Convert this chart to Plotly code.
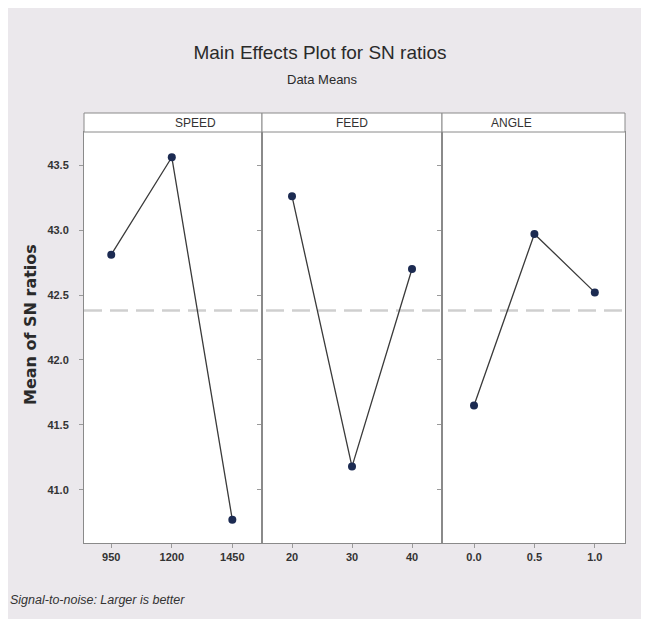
import plotly.graph_objects as go
from plotly.subplots import make_subplots

speed_levels = ["950", "1200", "1450"]
speed_sn = [42.81, 43.56, 40.77]
feed_levels = ["20", "30", "40"]
feed_sn = [43.26, 41.18, 42.70]
angle_levels = ["0.0", "0.5", "1.0"]
angle_sn = [41.65, 42.97, 42.52]
factor_names = ["SPEED", "FEED", "ANGLE"]
y_ticks = [41.0, 41.5, 42.0, 42.5, 43.0, 43.5]

all_vals = speed_sn + feed_sn + angle_sn
overall_mean = sum(all_vals) / len(all_vals)

W, H = 649, 619
OFF = 8  # page body margin offset
ML, MR, MT, MB = 84 - OFF, 24 + OFF, 132 - OFF, 76 + OFF
pw = W - ML - MR
ph = H - MT - MB

FONT = "Liberation Sans"

fig = make_subplots(rows=1, cols=3, shared_yaxes=True, horizontal_spacing=0)

series = [(speed_levels, speed_sn), (feed_levels, feed_sn), (angle_levels, angle_sn)]
for i, (lv, vals) in enumerate(series):
    fig.add_trace(go.Scatter(x=lv, y=vals, mode="lines+markers",
                             line=dict(color="#3a3a3a", width=1.3),
                             marker=dict(color="#1c2b52", size=8),
                             showlegend=False), row=1, col=i + 1)

bounds = [84, 262, 442, 625]
doms = [[(bounds[i] - 84) / pw, (bounds[i + 1] - 84) / pw] for i in range(3)]
ranges = [[-0.45, 2.49], [-0.5, 2.5], [-0.53, 2.5]]
for i in range(3):
    ax = "xaxis" if i == 0 else f"xaxis{i+1}"
    fig.layout[ax].update(domain=doms[i], type="category", range=ranges[i],
                          showgrid=False, zeroline=False, showline=True,
                          linecolor="#8a8a8a", linewidth=1, mirror=True,
                          ticks="outside", ticklen=4, tickcolor="#9a9a9a",
                          tickfont=dict(family=FONT, size=11, color="#333333", weight="bold"))
    fig.add_shape(type="rect", xref="paper", yref="paper",
                  x0=doms[i][0], x1=doms[i][1], y0=1, y1=1 + 19 / ph,
                  fillcolor="white", line=dict(color="#8a8a8a", width=1))
    fig.add_annotation(text=factor_names[i], xref="paper", yref="paper",
                       x=(doms[i][0] + doms[i][1]) / 2, y=1 + 9.5 / ph,
                       showarrow=False, yanchor="middle",
                       font=dict(family=FONT, size=12, color="#333333"))

fig.update_yaxes(range=[40.592, 43.754], tickvals=y_ticks,
                 ticktext=[f"{v:.1f}" for v in y_ticks],
                 showgrid=False, zeroline=False, showline=True,
                 linecolor="#8a8a8a", mirror=True,
                 ticks="outside", ticklen=4, tickcolor="#9a9a9a",
                 ticklabelstandoff=8,
                 tickfont=dict(family=FONT, size=11, color="#333333", weight="bold"))

# y-axis title as a rotated annotation
fig.add_annotation(text="Mean of SN ratios", textangle=-90, xref="paper", yref="paper",
                   x=(30 - 84) / pw, y=(543 - 325) / ph, showarrow=False,
                   xanchor="center", yanchor="middle",
                   font=dict(family="DejaVu Sans", size=16, color="#2a2a2a", weight="bold"))

fig.add_shape(type="line", xref="paper", yref="y", x0=0, x1=1,
              y0=overall_mean, y1=overall_mean,
              line=dict(color="#cfcfcf", width=2.5, dash="18px,8px"), layer="below")

fig.update_layout(
    width=W, height=H,
    margin=dict(l=ML, r=MR, t=MT, b=MB),
    paper_bgcolor="#ebe8ec", plot_bgcolor="white",
    title=dict(text="Main Effects Plot for SN ratios", x=(320 - OFF) / W, xanchor="center",
               y=1 - (52 - OFF) / H, yanchor="middle",
               font=dict(family=FONT, size=19, color="#2a2a2a")),
)
fig.add_annotation(text="Data Means", xref="paper", yref="paper",
                   x=(322 - 84) / pw, y=1 + (132 - 80) / ph, showarrow=False,
                   yanchor="middle",
                   font=dict(family=FONT, size=13, color="#2a2a2a"))
fig.add_annotation(text="<i>Signal-to-noise: Larger is better</i>", xref="paper", yref="paper",
                   x=(8 - 84) / pw, y=-(600 - 543) / ph, showarrow=False,
                   xanchor="left", yanchor="middle",
                   font=dict(family=FONT, size=12.5, color="#333333"))

fig.write_html("out.html")
